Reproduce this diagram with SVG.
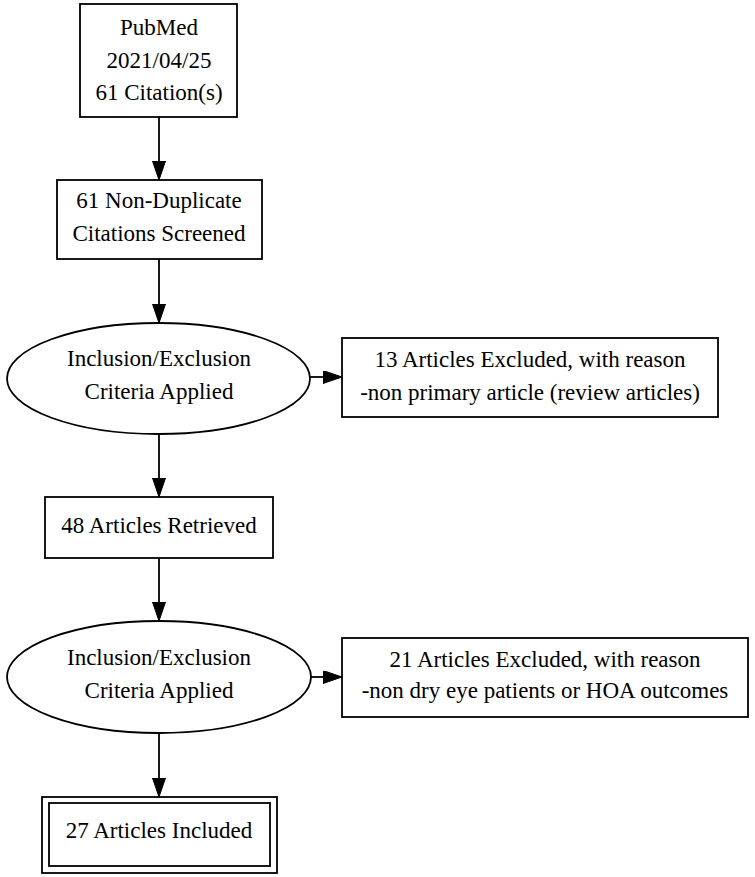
<svg xmlns="http://www.w3.org/2000/svg" width="755" height="877" viewBox="0 0 755 877">
<style>
.n{fill:#fff;stroke:#000;stroke-width:1.8}
.t{font-family:"Liberation Serif","Times New Roman",serif;font-size:23px;fill:#000;text-anchor:middle}
.e{fill:none;stroke:#000;stroke-width:1.8}
</style>
<defs>
<marker id="a" markerUnits="userSpaceOnUse" markerWidth="20" markerHeight="14" refX="0" refY="6.5" orient="auto" viewBox="0 0 20 14">
<path d="M0,0 L19,6.5 L0,13 z" fill="#000" stroke="#000" stroke-width="1"/>
</marker>
</defs>
<rect width="755" height="877" fill="#fff"/>
<g id="connectors">
<line class="e" x1="159" y1="117" x2="159" y2="161" marker-end="url(#a)"/>
<line class="e" x1="159" y1="259" x2="159" y2="304" marker-end="url(#a)"/>
<line class="e" x1="310" y1="377" x2="323" y2="377" marker-end="url(#a)"/>
<line class="e" x1="159" y1="434" x2="159" y2="478" marker-end="url(#a)"/>
<line class="e" x1="159" y1="558" x2="159" y2="602" marker-end="url(#a)"/>
<line class="e" x1="311" y1="677" x2="323" y2="677" marker-end="url(#a)"/>
<line class="e" x1="159" y1="733" x2="159" y2="778" marker-end="url(#a)"/>
</g>
<g id="pubmed">
<rect class="n" x="80" y="4" width="157" height="113"/>
<text class="t" x="159" y="35">PubMed</text>
<text class="t" x="159" y="68">2021/04/25</text>
<text class="t" x="159" y="100">61 Citation(s)</text>
</g>
<g id="screened">
<rect class="n" x="57" y="180" width="205" height="79"/>
<text class="t" x="159" y="208">61 Non-Duplicate</text>
<text class="t" x="159" y="241">Citations Screened</text>
</g>
<g id="criteria1">
<ellipse class="n" cx="158.5" cy="378.5" rx="151.5" ry="55.5"/>
<text class="t" x="159" y="366">Inclusion/Exclusion</text>
<text class="t" x="159" y="399">Criteria Applied</text>
</g>
<g id="excluded1">
<rect class="n" x="342" y="338" width="376" height="79"/>
<text class="t" x="530" y="367">13 Articles Excluded, with reason</text>
<text class="t" x="530" y="400">-non primary article (review articles)</text>
</g>
<g id="retrieved">
<rect class="n" x="45" y="497" width="228" height="61"/>
<text class="t" x="159" y="533">48 Articles Retrieved</text>
</g>
<g id="criteria2">
<ellipse class="n" cx="159" cy="677" rx="152" ry="56"/>
<text class="t" x="159" y="665">Inclusion/Exclusion</text>
<text class="t" x="159" y="698">Criteria Applied</text>
</g>
<g id="excluded2">
<rect class="n" x="342" y="638" width="406" height="79"/>
<text class="t" x="545" y="667">21 Articles Excluded, with reason</text>
<text class="t" x="545" y="698">-non dry eye patients or HOA outcomes</text>
</g>
<g id="included">
<rect class="n" x="42" y="797" width="235" height="76"/>
<rect class="n" x="49" y="803" width="221" height="63"/>
<text class="t" x="159" y="838">27 Articles Included</text>
</g>
</svg>
